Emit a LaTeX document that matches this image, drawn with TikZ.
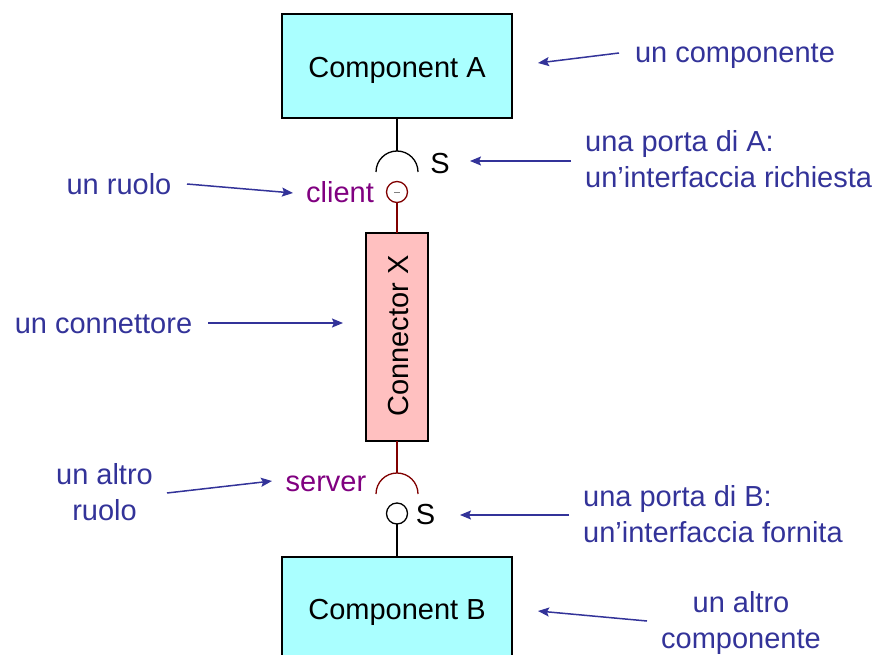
\documentclass[tikz,border=0pt]{standalone}
\usepackage{fontspec}
\setmainfont{Liberation Sans}
\usetikzlibrary{arrows.meta}
\definecolor{lblue}{RGB}{51,51,153}
\definecolor{rolep}{RGB}{128,0,128}
\definecolor{dred}{RGB}{128,0,0}
\definecolor{compfill}{RGB}{170,255,255}
\definecolor{connfill}{RGB}{255,192,192}
\tikzset{
  txt/.style={font=\fontsize{29}{36}\selectfont, inner sep=0pt, anchor=base},
  lbl/.style={txt, text=lblue},
  rolelbl/.style={txt, text=rolep},
  compbox/.style={draw=black, line width=1.2pt, fill=compfill},
  connbox/.style={draw=black, line width=1.2pt, fill=connfill},
  pointer/.style={draw=lblue, line width=1.5pt, -{Stealth[length=11pt,width=9pt,inset=2pt]}},
  blkline/.style={draw=black, line width=1.3pt},
  redline/.style={draw=dred, line width=1.3pt}
}
\begin{document}
\begin{tikzpicture}[x=1pt,y=-1pt]
\useasboundingbox (0,0) rectangle (878,655);
% components
\path[compbox] (282,14) rectangle (512,118);
\node[txt] (compA) at (397,78) {Component A};
\path[compbox] (282,557) rectangle (512,662);
\node[txt] (compB) at (397,619) {Component B};
% connector
\path[connbox] (366,233) rectangle (428,441);
\node[font=\fontsize{29}{36}\selectfont, inner sep=0pt, rotate=90] (connX) at (399,336) {Connector X};
% coordinates
\coordinate (aBot) at (397,118);
\coordinate (arcAtop) at (397,151);
\coordinate (cliBot) at (397,203);
\coordinate (cTop) at (397,233);
\coordinate (cBot) at (397,441);
\coordinate (arcBtop) at (397,473);
\coordinate (srvBot) at (397,524);
\coordinate (bTop) at (397,557);
% port A (required)
\draw[blkline] (aBot) -- (arcAtop);
\draw[blkline] (376,172) arc[start angle=180, end angle=0, radius=21pt];
\node[txt] (sA) at (440,174) {S};
% client role
\draw[redline] (397,192) circle[radius=10.5pt];
\draw[draw=gray, line width=0.6pt] (394,192) -- (400,192);
\draw[redline] (cliBot) -- (cTop);
\node[rolelbl] (client) at (340,203) {client};
% server role
\draw[redline] (cBot) -- (arcBtop);
\draw[redline] (376,494) arc[start angle=180, end angle=0, radius=21pt];
\node[rolelbl] (server) at (326,491) {server};
% port B (provided)
\draw[blkline] (397,513.5) circle[radius=10.5pt];
\draw[blkline] (srvBot) -- (bTop);
\node[txt] (sB) at (425.5,524) {S};
% labels (multi-line nodes: base = baseline of last line)
\node[lbl] (lComp) at (735,63) {un componente};
\node[lbl, anchor=base west, align=left] (lPortA) at (585,188) {una porta di A:\\un’interfaccia richiesta};
\node[lbl] (lRuolo) at (119,195) {un ruolo};
\node[lbl] (lConn) at (103.5,333) {un connettore};
\node[lbl, align=center] (lRuolo2) at (104.5,520) {un altro\\ruolo};
\node[lbl, anchor=base west, align=left] (lPortB) at (583,542) {una porta di B:\\un’interfaccia fornita};
\node[lbl, align=center] (lComp2) at (741,648) {un altro\\componente};
% pointer arrows
\coordinate (p1s) at (619,53);   \coordinate (p1e) at (538,63);
\coordinate (p2s) at (571,161);  \coordinate (p2e) at (470,161);
\coordinate (p3s) at (187,184);  \coordinate (p3e) at (293,193);
\coordinate (p4s) at (208,323);  \coordinate (p4e) at (343,323);
\coordinate (p5s) at (167,493);  \coordinate (p5e) at (272,481);
\coordinate (p6s) at (569,515);  \coordinate (p6e) at (460,515);
\coordinate (p7s) at (647,621);  \coordinate (p7e) at (538,611);
\draw[pointer] (p1s) -- (p1e);
\draw[pointer] (p2s) -- (p2e);
\draw[pointer] (p3s) -- (p3e);
\draw[pointer] (p4s) -- (p4e);
\draw[pointer] (p5s) -- (p5e);
\draw[pointer] (p6s) -- (p6e);
\draw[pointer] (p7s) -- (p7e);
\end{tikzpicture}
\end{document}
